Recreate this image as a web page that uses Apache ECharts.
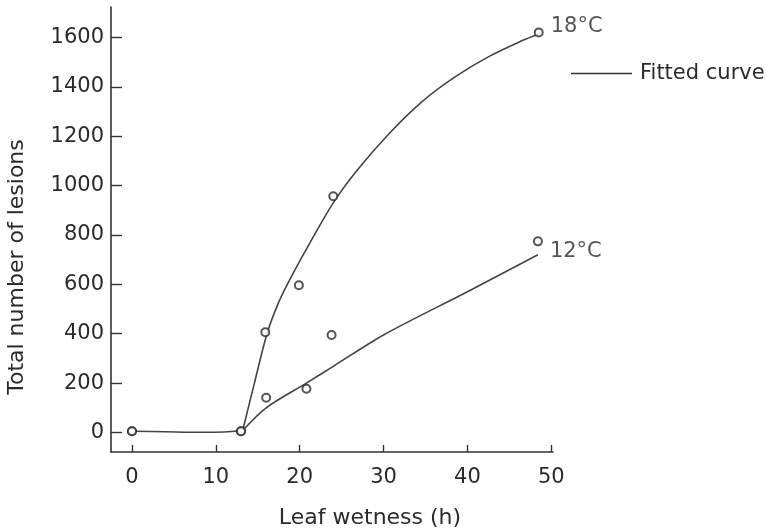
<!DOCTYPE html>
<html>
<head>
<meta charset="utf-8">
<script src="https://cdn.jsdelivr.net/npm/echarts@6/dist/echarts.min.js"></script>
<style>
  html, body { margin: 0; padding: 0; background: #fff; }
  #chart { width: 766px; height: 529px; }
</style>
</head>
<body>
<div id="chart"></div>
<script>
// Observed points
const obsHours18 = [0, 13.0, 15.9, 19.9, 24.0, 48.5];
const obsLesions18 = [5, 5, 406, 596, 957, 1620];
const obsHours12 = [0, 13.0, 16.0, 20.8, 23.8, 48.4];
const obsLesions12 = [5, 5, 141, 177, 395, 774];

// Fitted curves
// common flat part before wetness threshold
const fitHoursFlat = [0, 4, 8, 11, 13.2];
const fitLesionsFlat = [5, 3, 1, 2, 8];
// 18 °C rising part
const fitHours18 = [13.2, 14.6, 16.1, 17.4, 18.8, 21.2, 24.0, 26.8, 30.7, 34.7, 38.7, 42.7, 46.6, 48.4];
const fitLesions18 = [8, 200, 400, 520, 618, 767, 930, 1060, 1212, 1343, 1444, 1525, 1588, 1613];
// 12 °C rising part
const fitHours12 = [13.2, 16.0, 20.8, 24.0, 30.0, 40.0, 48.4];
const fitLesions12 = [8, 100, 200, 268, 395, 570, 720];

// Ticks
const xTicks = [0, 10, 20, 30, 40, 50];
const yTicks = [0, 200, 400, 600, 800, 1000, 1200, 1400, 1600];

const seriesLabels = { t18: '18°C', t12: '12°C' };
const legendLabel = 'Fitted curve';
const xName = 'Leaf wetness (h)';
const yName = 'Total number of lesions';

const FONT = 'DejaVu Sans';
const TXT = '#2b2b2b';
const AX = '#333';
const CURVE = '#444';

function pairs(xs, ys) { return xs.map((x, i) => [x, ys[i]]); }
function obsData(xs, ys, label, lblOffset) {
  return xs.map((x, i) => {
    const item = { value: [x, ys[i]] };
    if (i === xs.length - 1) {
      item.label = {
        show: true, formatter: label, position: 'right', distance: 7,
        offset: lblOffset, color: TXT, fontFamily: FONT, fontSize: 21
      };
    }
    return item;
  });
}
function fitSeries(xs, ys) {
  return {
    name: legendLabel, type: 'line', data: pairs(xs, ys),
    smooth: 0.3, showSymbol: false, silent: true,
    lineStyle: { color: CURVE, width: 1.6 }, itemStyle: { color: '#333' }, z: 2
  };
}

const chart = echarts.init(document.getElementById('chart'), null, { renderer: 'canvas' });
chart.setOption({
  animation: false,
  backgroundColor: '#fff',
  grid: { left: 111, right: 213, top: 7, bottom: 77, containLabel: false },
  legend: {
    data: [legendLabel],
    left: 566, top: 58,
    icon: 'rect', itemWidth: 61, itemHeight: 1.6,
    textStyle: { color: TXT, fontFamily: FONT, fontSize: 21, padding: [0, 0, 0, 3] },
    itemStyle: { color: '#333' },
    selectedMode: false
  },
  xAxis: {
    type: 'value', min: -2.5, max: 50.2,
    axisLine: { show: true, onZero: false, lineStyle: { color: AX, width: 1.6 } },
    axisTick: { show: true, inside: true, length: 7, customValues: xTicks, lineStyle: { color: AX, width: 1.4 } },
    axisLabel: { customValues: xTicks, margin: 15, color: TXT, fontFamily: FONT, fontSize: 21, formatter: v => String(v) },
    splitLine: { show: false }
  },
  yAxis: {
    type: 'value', min: -79, max: 1723,
    axisLine: { show: true, onZero: false, lineStyle: { color: AX, width: 1.6 } },
    axisTick: { show: true, inside: true, length: 11, customValues: yTicks, lineStyle: { color: AX, width: 1.4 } },
    axisLabel: { customValues: yTicks, margin: 7, color: TXT, fontFamily: FONT, fontSize: 21, formatter: v => String(v) },
    splitLine: { show: false }
  },
  graphic: [
    { type: 'text', x: 370, y: 518, style: { text: xName, fill: TXT, font: '22px "DejaVu Sans"', textAlign: 'center', textVerticalAlign: 'middle' } },
    { type: 'text', rotation: Math.PI / 2, x: 17, y: 267, style: { text: yName, fill: TXT, font: '22px "DejaVu Sans"', textAlign: 'center', textVerticalAlign: 'middle' } }
  ],
  series: [
    fitSeries(fitHoursFlat, fitLesionsFlat),
    fitSeries(fitHours18, fitLesions18),
    fitSeries(fitHours12, fitLesions12),
    {
      name: 'obs18', type: 'scatter', data: obsData(obsHours18, obsLesions18, seriesLabels.t18, [0, -6]),
      symbol: 'emptyCircle', symbolSize: 8,
      itemStyle: { color: '#2b2b2b', borderWidth: 1.6 }, z: 3
    },
    {
      name: 'obs12', type: 'scatter', data: obsData(obsHours12, obsLesions12, seriesLabels.t12, [0, 10]),
      symbol: 'emptyCircle', symbolSize: 8,
      itemStyle: { color: '#2b2b2b', borderWidth: 1.6 }, z: 3
    }
  ]
});
</script>
</body>
</html>
